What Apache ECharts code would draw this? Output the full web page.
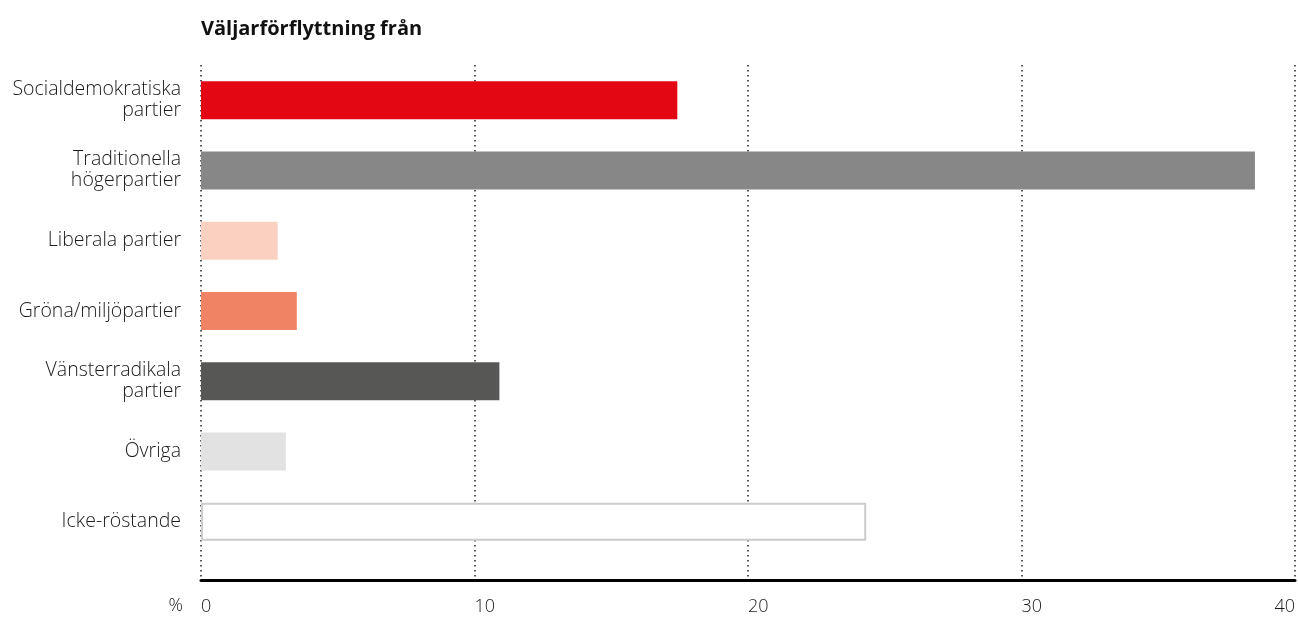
<!DOCTYPE html>
<html><head><meta charset="utf-8">
<script src="https://cdn.jsdelivr.net/npm/echarts@6/dist/echarts.min.js"></script>
<style>html,body{margin:0;padding:0;background:#fff}#c{width:1298px;height:617px}</style>
</head><body><div id="c"></div>
<script>
const categories = ["Socialdemokratiska\npartier","Traditionella\nhögerpartier","Liberala partier","Gröna/miljöpartier","Vänsterradikala\npartier","Övriga","Icke-röstande"];
const values = [17.4, 38.5, 2.8, 3.5, 10.9, 3.1, 24.3];
const barColors = ["#E30613","#878787","#FAD0C0","#F08363","#575756","#E2E2E2","#FFFFFF"];
const xTicks = [0, 10, 20, 30, 40];
const titleText = "Väljarförflyttning från";
const unitText = "%";

const FONT = "'Open Sans', sans-serif";
const chart = echarts.init(document.getElementById('c'), null, {renderer:'canvas'});
chart.setOption({
  animation:false,
  title:{text:titleText,left:196,top:14,textStyle:{fontFamily:FONT,fontWeight:'bold',fontSize:20,color:'#111'}},
  graphic:[{type:'text',right:1298-183,top:597,style:{text:unitText,font:"300 18px "+FONT,fill:'#1a1a1a'}}],
  grid:[
    {left:201,right:2,top:65,height:492},
    {left:201,right:2,top:65,height:515}
  ],
  xAxis:[
    {gridIndex:0,type:'value',min:0,max:40,interval:10,show:false,splitLine:{show:false}},
    {gridIndex:1,type:'value',min:0,max:40,interval:10,
      axisLine:{show:true,onZero:false,lineStyle:{color:'#000',width:3}},
      axisTick:{show:false},
      splitLine:{show:true,lineStyle:{color:'#222',type:[1.5,3.5],width:1.5}},
      axisLabel:{align:'left',alignMaxLabel:'right',margin:18,fontFamily:FONT,fontWeight:300,fontSize:18,color:'#1a1a1a',
        formatter:function(v){return xTicks.indexOf(v)>=0?String(v):'';}}
    }
  ],
  yAxis:[
    {gridIndex:0,type:'category',data:categories,inverse:true,
      axisLine:{show:false},axisTick:{show:false},
      axisLabel:{margin:20,fontFamily:FONT,fontWeight:300,fontSize:19.5,lineHeight:21,padding:[3,0,0,0],color:'#1a1a1a',align:'right'}},
    {gridIndex:1,type:'value',show:false}
  ],
  series:[{
    type:'bar',xAxisIndex:0,yAxisIndex:0,barWidth:38,z:5,
    data:values.map(function(v,i){
      return {value:v,itemStyle:{color:barColors[i],borderColor:i===6?'#CCCCCC':barColors[i],borderWidth:i===6?2:0}};
    })
  }]
});
</script></body></html>
